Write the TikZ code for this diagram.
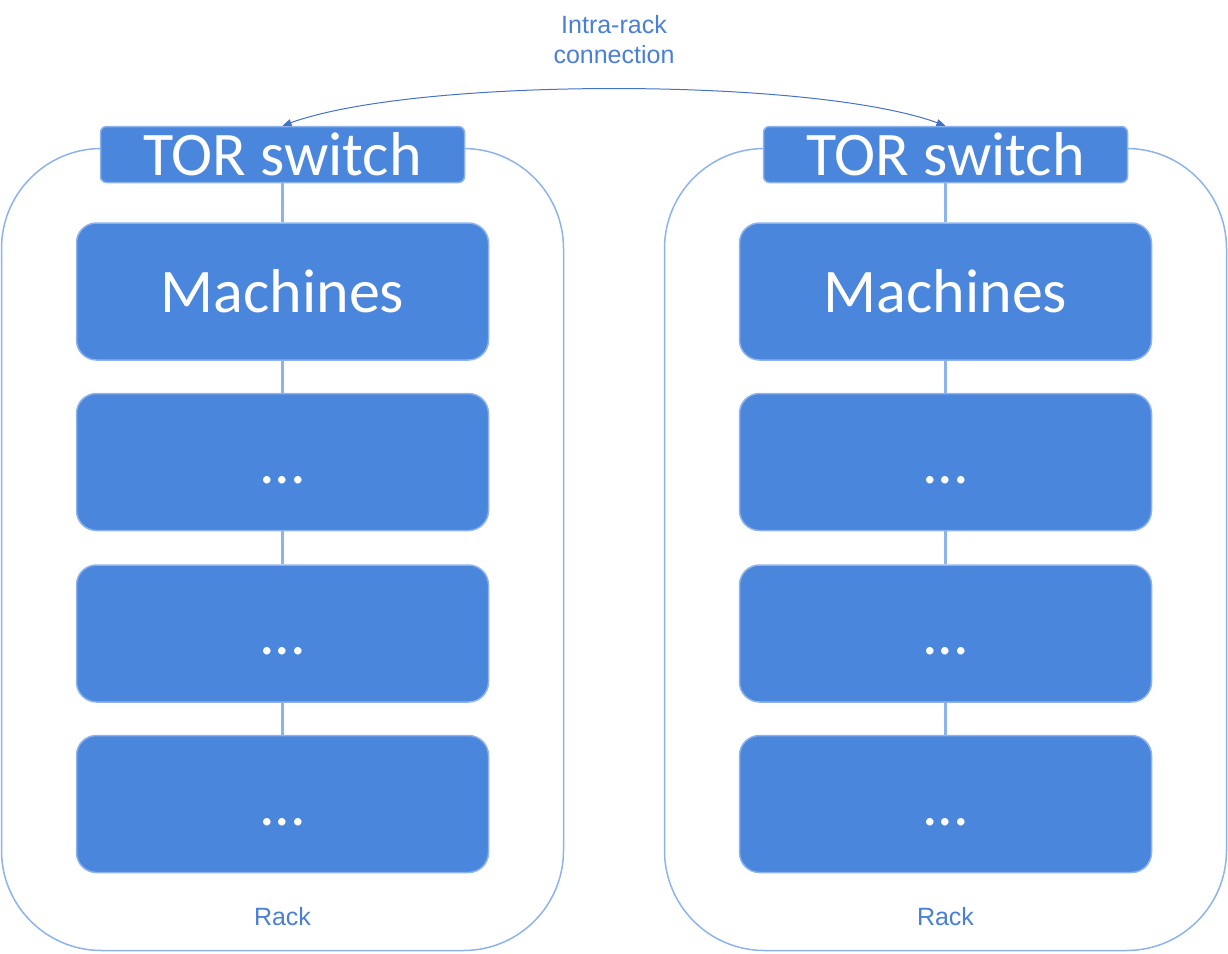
\documentclass[tikz,border=0pt]{standalone}
\usepackage{fontspec}
\setmainfont{Carlito}
\newfontfamily\labelfont{Liberation Sans}
\usetikzlibrary{positioning,arrows.meta}
\definecolor{boxblue}{HTML}{4A86DC}
\definecolor{edgeblue}{HTML}{8DB3EC}
\definecolor{textblue}{HTML}{4A7FD6}
\definecolor{arrowblue}{HTML}{4472C4}

\begin{document}
\begin{tikzpicture}[x=1pt,y=1pt,
    rack/.style={draw=edgeblue,line width=1.5pt,rounded corners=100pt,minimum width=562pt,minimum height=802pt,inner sep=0pt},
    tor/.style={draw=edgeblue,fill=boxblue,line width=1.5pt,rounded corners=6pt,minimum width=364pt,minimum height=56pt,inner sep=0pt,text=white,font=\fontsize{62}{62}\selectfont,text height=42pt,text depth=0pt},
    machine/.style={tor,rounded corners=20pt,minimum width=412pt,minimum height=137pt},
    link/.style={draw=edgeblue,line width=2.5pt},
    note/.style={text=textblue,font=\labelfont\fontsize{25}{30}\selectfont}]
    \useasboundingbox (0,0) rectangle (1228,-953);
    \foreach \side/\xc in {L/282.5,R/945.5}{
        \node[rack] (rack\side) at (\xc,-549.5){};
        \node[note] (label\side) at (\xc,-917){Rack};
        \node[tor] (tor\side) at (\xc,-154.5){TOR switch};
        \node[machine] (m\side1)[below=39pt of tor\side]{Machines};
        \node[machine] (m\side2)[below=32pt of m\side1]{...};
        \node[machine] (m\side3)[below=33pt of m\side2]{...};
        \node[machine] (m\side4)[below=32pt of m\side3]{...};
        \path[link](tor\side) edge (m\side1)
                (m\side1) edge (m\side2)
                (m\side2) edge (m\side3)
                (m\side3) edge (m\side4);
    }
    \node[note,align=center] (conn) at (614,-40){Intra-rack\\connection};
    \draw[arrowblue,line width=1pt,{Triangle[length=9pt,width=7pt]}-{Triangle[length=9pt,width=7pt]}]
        (torL.north) to[out=20,in=160,looseness=0.55] (torR.north);
\end{tikzpicture}
\end{document}
